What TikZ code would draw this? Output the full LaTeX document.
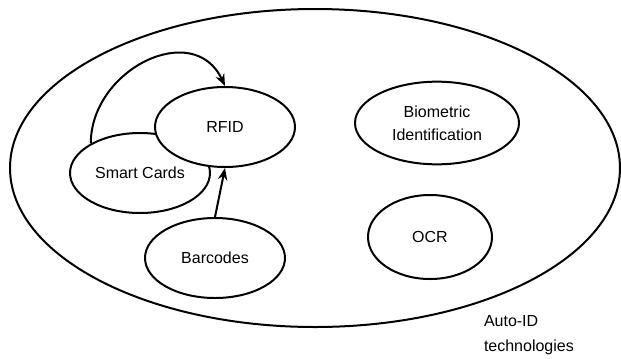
\documentclass[tikz,border=0pt]{standalone}
\usepackage{fontspec}
\setmainfont{Liberation Sans}
\usetikzlibrary{shapes.geometric,arrows.meta}
\begin{document}
\begin{tikzpicture}[x=0.75pt,y=-0.75pt,line width=1.5pt,>={Stealth[length=9pt,width=7pt]},
  tech/.style={draw,ellipse,fill=white,inner sep=0pt,minimum width=105pt,minimum height=60pt,align=center,font=\fontsize{12}{17}\selectfont}]
\useasboundingbox (0,0) rectangle (621,358);

\node[draw,ellipse,inner sep=0pt,minimum width=457.5pt,minimum height=238.5pt] (autoid) at (315,168) {};

\node[tech] (sc) at (140,173) {Smart Cards};
\node[tech] (rfid) at (225,127) {RFID};
\node[tech] (barcodes) at (215,258) {Barcodes};
\node[tech,minimum width=123pt,minimum height=62pt] (bio) at (437,123) {Biometric\\Identification};
\node[tech,minimum width=93pt,minimum height=63pt] (ocr) at (430,237) {OCR};

\node[anchor=west,align=left,inner sep=0pt,font=\fontsize{12}{18.5}\selectfont] (label) at (483,335) {Auto-ID\\technologies};

\draw[->] (sc.149) to[out=90,in=115,looseness=1.3] (rfid.north);
\draw[->] (barcodes.north) -- (rfid.south);
\end{tikzpicture}
\end{document}
